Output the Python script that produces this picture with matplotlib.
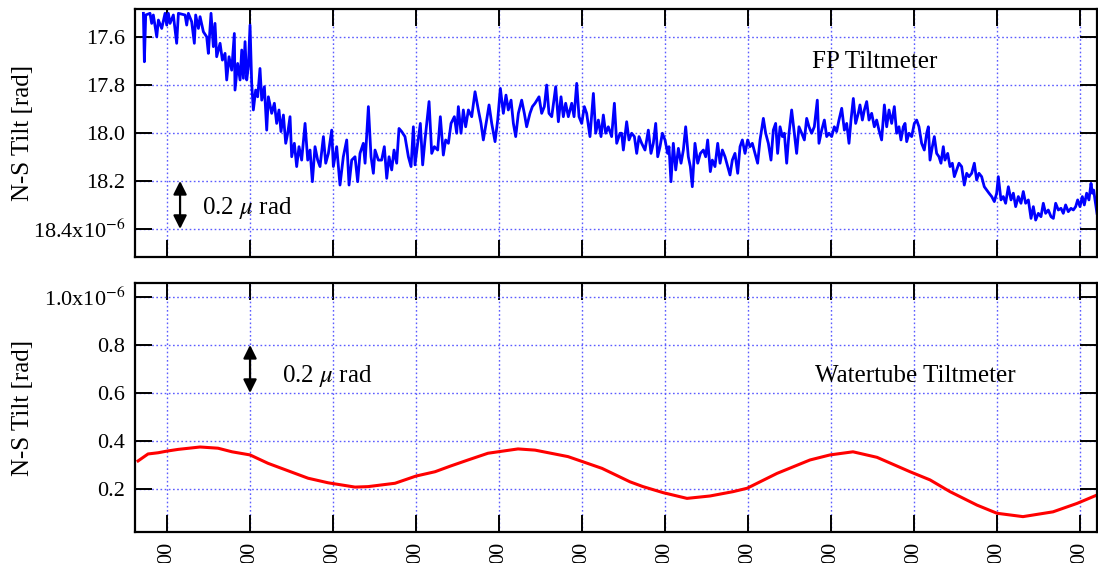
import matplotlib
matplotlib.use('Agg')
import matplotlib.pyplot as plt

# FP tiltmeter, N-S tilt in 1e-6 rad
fp_hours = [-0.285, -0.273, -0.257, -0.205, -0.185, -0.165, -0.124, -0.104, -0.064, -0.024,
            -0.004, 0.016, 0.036, 0.076, 0.116, 0.137, 0.217, 0.237, 0.257, 0.297,
            0.329, 0.345, 0.378, 0.398, 0.438, 0.478, 0.498, 0.530, 0.558, 0.578,
            0.598, 0.639, 0.667, 0.699, 0.719, 0.747, 0.779, 0.811, 0.819, 0.851,
            0.880, 0.900, 0.920, 0.940, 0.960, 0.980, 1.000, 1.020, 1.040, 1.068,
            1.092, 1.120, 1.141, 1.173, 1.201, 1.221, 1.261, 1.293, 1.321, 1.349,
            1.373, 1.402, 1.430, 1.454, 1.482, 1.502, 1.534, 1.562, 1.590, 1.622,
            1.663, 1.695, 1.723, 1.751, 1.783, 1.815, 1.843, 1.884, 1.912, 1.944,
            1.984, 2.004, 2.044, 2.084, 2.124, 2.165, 2.193, 2.225, 2.265, 2.297,
            2.325, 2.365, 2.386, 2.426, 2.458, 2.486, 2.506, 2.546,
            2.586, 2.618, 2.647, 2.675, 2.707, 2.735, 2.767, 2.795, 2.827, 2.867,
            2.908, 2.940, 2.968, 2.988, 3.020, 3.052, 3.080, 3.108, 3.157, 3.189,
            3.221, 3.261, 3.293, 3.329, 3.357, 3.390, 3.422, 3.462, 3.490, 3.510,
            3.542, 3.570, 3.598, 3.631, 3.671, 3.711, 3.751, 3.783, 3.811, 3.851,
            3.880, 3.912, 3.952, 3.984, 4.016, 4.052, 4.084, 4.112, 4.145, 4.173,
            4.201, 4.233, 4.273, 4.305, 4.333, 4.373, 4.402, 4.434, 4.482, 4.514,
            4.546, 4.574, 4.602, 4.635, 4.683, 4.715, 4.747, 4.775, 4.803, 4.835,
            4.876, 4.904, 4.936, 4.964, 4.996, 5.028, 5.056, 5.096, 5.137, 5.165,
            5.197, 5.229, 5.257, 5.285, 5.317, 5.357, 5.390, 5.418, 5.458,
            5.478, 5.498, 5.538, 5.566, 5.598, 5.631, 5.659, 5.687, 5.719, 5.759,
            5.799, 5.831, 5.859, 5.888, 5.912, 5.940, 5.968, 6.000, 6.032, 6.048,
            6.072, 6.100, 6.129, 6.161, 6.193, 6.221, 6.249, 6.281, 6.305, 6.329,
            6.361, 6.394, 6.426, 6.462, 6.490, 6.514, 6.546, 6.570, 6.602, 6.635,
            6.663, 6.691, 6.723, 6.755, 6.783, 6.811, 6.843, 6.876, 6.904, 6.932,
            6.964, 6.996, 7.024, 7.052, 7.084, 7.116, 7.145, 7.185, 7.213, 7.245,
            7.277, 7.305, 7.333, 7.357, 7.386, 7.414, 7.438, 7.466, 7.494, 7.526,
            7.558, 7.586, 7.614, 7.647, 7.679, 7.707, 7.735, 7.767, 7.799, 7.835,
            7.855, 7.888, 7.920, 7.948, 7.976, 8.008, 8.040, 8.068, 8.096, 8.129,
            8.161, 8.189, 8.217, 8.241, 8.269, 8.297, 8.329,
            8.349, 8.378, 8.402, 8.430, 8.458, 8.490, 8.522, 8.550, 8.578, 8.610,
            8.643, 8.671, 8.699, 8.731, 8.763, 8.791, 8.819, 8.843, 8.871, 8.892,
            8.912, 8.940, 8.972, 9.004, 9.032, 9.060, 9.092, 9.124, 9.153, 9.173,
            9.193, 9.221, 9.245, 9.273, 9.301, 9.325, 9.353, 9.373, 9.406, 9.434,
            9.462, 9.486, 9.514, 9.542, 9.574, 9.606, 9.635, 9.663, 9.695, 9.727,
            9.755, 9.783, 9.815, 9.847, 9.876, 9.904, 9.936, 9.968, 9.996, 10.016,
            10.048, 10.076, 10.104, 10.137, 10.169, 10.197, 10.225, 10.257, 10.289, 10.317,
            10.345, 10.378, 10.410, 10.438, 10.466, 10.498, 10.530, 10.558, 10.586, 10.618,
            10.651, 10.679, 10.707, 10.739, 10.771, 10.799, 10.827, 10.859, 10.892, 10.920,
            10.948, 10.972, 11.000, 11.028, 11.052, 11.080, 11.108, 11.133, 11.149, 11.165,
            11.181, 11.205]

fp_tilt = [17.501, 17.703, 17.508, 17.501, 17.543, 17.508, 17.599, 17.529, 17.564, 17.501,
           17.550, 17.501, 17.543, 17.508, 17.626, 17.501, 17.508, 17.550, 17.501, 17.536,
           17.626, 17.508, 17.564, 17.515, 17.578, 17.599, 17.668, 17.501, 17.640, 17.543,
           17.682, 17.626, 17.696, 17.668, 17.779, 17.682, 17.738, 17.585, 17.821, 17.710,
           17.779, 17.654, 17.772, 17.619, 17.779, 17.724, 17.550, 17.793, 17.904, 17.821,
           17.849, 17.731, 17.863, 17.807, 17.988, 17.849, 17.918, 17.876, 17.960, 17.904,
           17.994, 17.925, 18.043, 18.001, 17.932, 18.099, 18.043, 18.140, 18.057, 18.113,
           17.960, 18.113, 18.071, 18.203, 18.057, 18.113, 18.140, 18.015, 18.126, 18.085,
           17.988, 18.140, 18.057, 18.217, 18.099, 18.029, 18.217, 18.113, 18.099, 18.203,
           18.085, 18.043, 18.126, 17.890, 18.099, 18.168, 18.071, 18.113,
           18.113, 18.057, 18.189, 18.099, 18.154, 18.071, 18.126, 17.981, 17.994, 18.015,
           18.099, 18.140, 17.974, 18.133, 18.043, 17.960, 18.133, 18.029, 17.869, 18.085,
           18.057, 18.071, 17.932, 18.092, 18.029, 18.043, 17.960, 17.932, 18.001, 17.890,
           18.001, 17.904, 17.974, 17.904, 17.932, 17.828, 17.904, 17.960, 18.029, 17.946,
           17.883, 17.960, 18.036, 17.946, 17.814, 17.918, 17.842, 17.904, 17.863, 17.960,
           18.015, 17.918, 17.863, 17.918, 17.974, 17.918, 17.890, 17.876, 17.849, 17.918,
           17.890, 17.800, 17.918, 17.932, 17.807, 17.953, 17.849, 17.932, 17.876, 17.932,
           17.876, 17.932, 17.793, 17.932, 17.960, 17.890, 17.918, 18.015, 17.835, 18.001,
           17.946, 18.015, 17.925, 18.001, 17.974, 18.015, 17.876, 18.043, 18.001,
           18.001, 18.071, 17.953, 18.029, 18.001, 18.015, 18.085, 18.015, 18.043, 18.071,
           17.988, 18.085, 18.043, 17.960, 18.099, 18.057, 18.001, 18.029, 18.085, 18.057,
           18.203, 18.043, 18.154, 18.064, 18.126, 18.071, 17.974, 18.099, 18.140, 18.224,
           18.043, 18.126, 18.085, 18.071, 18.099, 18.029, 18.161, 18.113, 18.140, 18.043,
           18.126, 18.071, 18.099, 18.140, 18.175, 18.113, 18.085, 18.168, 18.057, 18.029,
           18.085, 18.029, 18.057, 18.043, 18.085, 18.126, 18.029, 17.939, 18.001, 18.043,
           18.113, 17.988, 17.960, 18.085, 17.974, 18.015, 18.001, 18.126, 18.001, 17.904,
           18.001, 18.085, 17.974, 18.001, 18.029, 17.939, 17.974, 18.001, 17.974, 17.863,
           18.043, 17.988, 17.946, 18.015, 18.001, 18.015, 17.974, 17.994, 17.946, 17.897,
           17.988, 17.960, 18.043, 17.946, 17.856, 17.960, 17.918,
           17.883, 17.946, 17.904, 17.869, 17.946, 17.918, 17.974, 17.946, 17.988, 18.029,
           17.883, 17.974, 17.904, 17.960, 17.890, 18.001, 17.974, 18.029, 17.974, 17.960,
           18.036, 18.001, 18.015, 17.960, 17.946, 17.974, 18.043, 18.071, 18.001, 17.974,
           18.113, 18.057, 18.015, 18.085, 18.099, 18.126, 18.057, 18.113, 18.085, 18.140,
           18.126, 18.182, 18.154, 18.126, 18.140, 18.217, 18.168, 18.182, 18.168, 18.126,
           18.196, 18.168, 18.182, 18.224, 18.238, 18.251, 18.265, 18.286, 18.251, 18.182,
           18.279, 18.265, 18.293, 18.224, 18.279, 18.251, 18.307, 18.265, 18.293, 18.244,
           18.293, 18.279, 18.356, 18.307, 18.363, 18.335, 18.349, 18.293, 18.335, 18.321,
           18.349, 18.356, 18.293, 18.321, 18.314, 18.335, 18.300, 18.328, 18.314, 18.321,
           18.307, 18.279, 18.307, 18.265, 18.300, 18.251, 18.279, 18.210, 18.251, 18.238,
           18.279, 18.335]

# Watertube tiltmeter, N-S tilt in 1e-6 rad
wt_hours = [-0.349, -0.229, -0.108, 0.0, 0.133, 0.398, 0.614, 0.783, 1.0, 1.217,
            1.458, 1.699, 1.940, 2.265, 2.422, 2.747, 3.0, 3.229, 3.410, 3.627,
            3.867, 4.229, 4.434, 4.831, 5.241, 5.578, 5.735, 5.976, 6.265, 6.542,
            6.819, 6.988, 7.349, 7.747, 7.988, 8.265, 8.554, 8.952, 9.193, 9.434,
            9.759, 10.0, 10.313, 10.675, 10.964, 11.205]
wt_tilt = [0.317, 0.346, 0.351, 0.358, 0.365, 0.375, 0.370, 0.355, 0.342, 0.307,
           0.276, 0.245, 0.226, 0.208, 0.210, 0.224, 0.254, 0.272, 0.295, 0.321,
           0.349, 0.367, 0.362, 0.335, 0.286, 0.230, 0.210, 0.185, 0.161, 0.171,
           0.189, 0.203, 0.265, 0.321, 0.342, 0.355, 0.332, 0.272, 0.238, 0.189,
           0.133, 0.099, 0.085, 0.105, 0.140, 0.175]

hour_ticks = list(range(12))
hour_labels = ['00'] * 12
fp_ticks = [17.6, 17.8, 18.0, 18.2, 18.4]
fp_labels = ['17.6', '17.8', '18.0', '18.2', '18.4x10$^{-6}$']
wt_ticks = [0.2, 0.4, 0.6, 0.8, 1.0]
wt_labels = ['0.2', '0.4', '0.6', '0.8', '1.0x10$^{-6}$']

plt.rcParams['font.family'] = 'Liberation Serif'
plt.rcParams['mathtext.fontset'] = 'stix'

W, H = 1098, 563
fig = plt.figure(figsize=(W / 100, H / 100), dpi=100)
ax1 = fig.add_axes([135 / W, 1 - 257 / H, 962 / W, 248 / H])
ax2 = fig.add_axes([135 / W, 1 - 532 / H, 962 / W, 249 / H])

for ax in (ax1, ax2):
    ax.set_xlim(-0.386, 11.205)
    ax.set_xticks(hour_ticks)
    ax.grid(True, color='#5c5cff', linestyle=(0, (1.2, 1.8)), linewidth=1.0)
    ax.tick_params(direction='in', length=12, width=1.4, top=True, right=True,
                   labelsize=16, pad=7)
    for sp in ax.spines.values():
        sp.set_linewidth(1.6)
    ax.set_ylabel('N-S Tilt [rad]', fontsize=18)
    ax.yaxis.set_label_coords(-0.105, 0.5)

# top: FP tiltmeter (inverted axis)
ax1.plot(fp_hours, fp_tilt, color='#0000ff', lw=2.0)
ax1.set_ylim(18.517, 17.483)
ax1.set_yticks(fp_ticks)
ax1.set_yticklabels(fp_labels)
ax1.set_xticklabels([])
ax1.annotate('', xy=(0.157, 18.2), xytext=(0.157, 18.4),
             arrowprops=dict(arrowstyle='<|-|>', color='k', lw=1.6,
                             mutation_scale=20, shrinkA=0, shrinkB=0))
ax1.text(0.42, 18.312, '0.2 $\\mu$ rad', fontsize=18, va='center')
ax1.text(7.77, 17.704, 'FP Tiltmeter', fontsize=18, va='center')

# bottom: watertube tiltmeter
ax2.plot(wt_hours, wt_tilt, color='#ff0000', lw=2.2)
ax2.set_ylim(0.021, 1.058)
ax2.set_yticks(wt_ticks)
ax2.set_yticklabels(wt_labels)
ax2.set_xticklabels(hour_labels, rotation=90)
ax2.annotate('', xy=(1.0, 0.8), xytext=(1.0, 0.6),
             arrowprops=dict(arrowstyle='<|-|>', color='k', lw=1.6,
                             mutation_scale=20, shrinkA=0, shrinkB=0))
ax2.text(1.386, 0.671, '0.2 $\\mu$ rad', fontsize=18, va='center')
ax2.text(7.81, 0.671, 'Watertube Tiltmeter', fontsize=18, va='center')

fig.savefig('out.png', dpi=100)
